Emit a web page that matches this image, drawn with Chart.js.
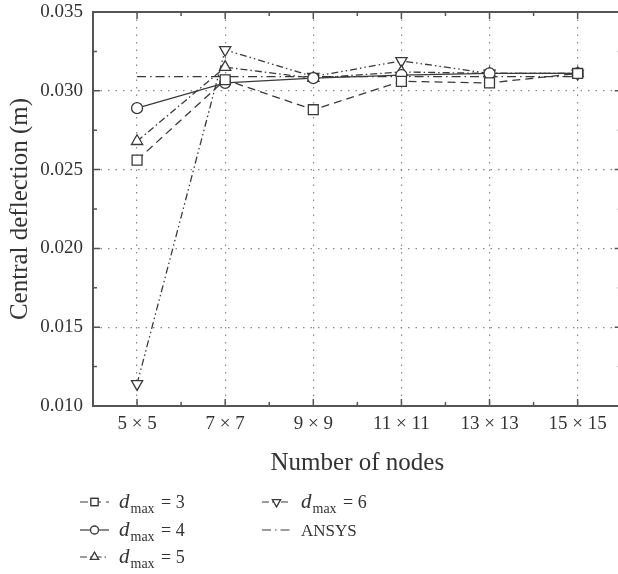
<!DOCTYPE html>
<html>
<head>
<meta charset="utf-8">
<script src="https://cdn.jsdelivr.net/npm/chart.js@4/dist/chart.umd.min.js"></script>
<style>
  html, body { margin: 0; padding: 0; background: #fff; overflow: hidden; }
  #chart { display: block; }
</style>
</head>
<body>
<canvas id="chart" width="630" height="574"></canvas>
<script>
const nodeLabels = ["5 × 5", "7 × 7", "9 × 9", "11 × 11", "13 × 13", "15 × 15"];
const dmax3 = [0.0256, 0.0307, 0.0288, 0.0306, 0.0305, 0.0311];
const dmax4 = [0.0289, 0.0305, 0.0308, 0.0310, 0.0311, 0.0311];
const dmax5 = [0.0268, 0.0315, 0.0308, 0.0312, 0.0311, 0.0311];
const dmax6 = [0.0114, 0.0326, 0.0309, 0.0319, 0.0311, 0.0311];
const ansys = [0.0309, 0.0309, 0.0309, 0.0309, 0.0309, 0.0309];
const yTicks = [0.010, 0.015, 0.020, 0.025, 0.030, 0.035];
const legendNames = ["3", "4", "5", "6", "ANSYS"];

const ink = "#3a3a3a";
const serif = "'Liberation Serif', 'DejaVu Serif', serif";

function series(label, data, dash, style, radius, rotation) {
    return {
        label: label,
        data: data,
        borderColor: ink,
        borderWidth: 1.3,
        borderDash: dash,
        tension: 0,
        fill: false,
        pointStyle: style,
        pointRadius: radius,
        pointRotation: rotation || 0,
        pointBackgroundColor: "#fff",
        pointBorderColor: ink,
        pointBorderWidth: 1.3,
    };
}

/* frame, inward ticks and the two-column legend */
const framePlugin = {
    id: "frame",
    afterDraw(chart) {
        const ctx = chart.ctx;
        const a = chart.chartArea;
        const xs = chart.scales.x;
        const ys = chart.scales.y;
        ctx.save();
        ctx.strokeStyle = "#555";
        ctx.lineWidth = 2;
        ctx.strokeRect(a.left, a.top, a.right - a.left, a.bottom - a.top);

        ctx.lineWidth = 1.5;
        ctx.beginPath();
        const step = xs.getPixelForValue(1) - xs.getPixelForValue(0);
        for (let i = 0; i < nodeLabels.length; i++) {
            const px = xs.getPixelForValue(i);
            ctx.moveTo(px, a.bottom); ctx.lineTo(px, a.bottom - 7);
            ctx.moveTo(px, a.top); ctx.lineTo(px, a.top + 7);
            const mx = px - step / 2;
            ctx.moveTo(mx, a.bottom); ctx.lineTo(mx, a.bottom - 4);
            ctx.moveTo(mx, a.top); ctx.lineTo(mx, a.top + 4);
        }
        yTicks.forEach((v) => {
            const py = ys.getPixelForValue(v);
            ctx.moveTo(a.left, py); ctx.lineTo(a.left + 7, py);
            ctx.moveTo(a.right, py); ctx.lineTo(a.right - 7, py);
            if (v < 0.035) {
                const my = ys.getPixelForValue(v + 0.0025);
                ctx.moveTo(a.left, my); ctx.lineTo(a.left + 4, my);
                ctx.moveTo(a.right, my); ctx.lineTo(a.right - 4, my);
            }
        });
        ctx.stroke();

        // legend
        const slots = [
            [80, 502], [80, 530], [80, 557],
            [262, 502], [262, 530],
        ];
        chart.data.datasets.forEach((ds, i) => {
            const [x0, y0] = slots[i];
            ctx.strokeStyle = ink;
            ctx.lineWidth = 1.2;
            ctx.setLineDash(ds.borderDash || []);
            ctx.beginPath();
            ctx.moveTo(x0, y0);
            ctx.lineTo(x0 + 29, y0);
            ctx.stroke();
            ctx.setLineDash([]);
            if (ds.pointRadius > 0) {
                ctx.fillStyle = "#fff";
                Chart.helpers.drawPoint(ctx, {
                    pointStyle: ds.pointStyle,
                    rotation: ds.pointRotation,
                    radius: ds.pointRadius * 0.72,
                    borderWidth: 1.2,
                }, x0 + 14.5, y0);
                ctx.fill();
                ctx.stroke();
            }
            ctx.fillStyle = "#333";
            ctx.textBaseline = "alphabetic";
            const tx = x0 + 39;
            const base = y0 + 6;
            if (ds.label === "ANSYS") {
                ctx.font = "17px " + serif;
                ctx.fillText("ANSYS", tx, base);
            } else {
                ctx.font = "italic 21px " + serif;
                ctx.fillText("d", tx, base);
                let w = ctx.measureText("d").width;
                ctx.font = "14px " + serif;
                ctx.fillText("max", tx + w + 1, base + 5);
                w += ctx.measureText("max").width + 1;
                ctx.font = "18px " + serif;
                ctx.fillText(" = " + legendNames[i], tx + w + 2, base);
            }
        });
        ctx.restore();
    },
};

const ctx = document.getElementById("chart").getContext("2d");
new Chart(ctx, {
    type: "line",
    data: {
        labels: nodeLabels,
        datasets: [
            series("dmax = 3", dmax3, [8, 5], "rect", 7),
            series("dmax = 4", dmax4, [], "circle", 5.5),
            series("dmax = 5", dmax5, [7, 3, 1.5, 3], "triangle", 6.5),
            series("dmax = 6", dmax6, [7, 3, 1.5, 3, 1.5, 3], "triangle", 6.5, 180),
            series("ANSYS", ansys, [9, 4, 1.5, 4], "circle", 0),
        ],
    },
    options: {
        responsive: false,
        animation: false,
        layout: { padding: { top: 12, right: 1, bottom: 96, left: 0 } },
        plugins: {
            legend: { display: false },
            tooltip: { enabled: false },
        },
        scales: {
            x: {
                type: "category",
                offset: true,
                grid: {
                    offset: false,
                    color: "#888",
                    lineWidth: 1.2,
                    drawTicks: false,
                },
                border: { display: false, dash: [1.5, 6] },
                ticks: {
                    color: "#333",
                    font: { family: serif, size: 19 },
                    padding: 7,
                    maxRotation: 0,
                },
                title: {
                    display: true,
                    text: "Number of nodes",
                    color: "#333",
                    font: { family: serif, size: 25 },
                    padding: { top: 4, bottom: 0 },
                },
                afterFit(scale) { scale.height = 72; },
            },
            y: {
                min: 0.010,
                max: 0.035,
                grid: {
                    color: "#888",
                    lineWidth: 1.2,
                    drawTicks: false,
                },
                border: { display: false, dash: [1.5, 6] },
                ticks: {
                    stepSize: 0.005,
                    color: "#333",
                    font: { family: serif, size: 19 },
                    padding: 10,
                    callback: (v) => Number(v).toFixed(3),
                },
                title: {
                    display: true,
                    text: "Central deflection (m)",
                    color: "#333",
                    font: { family: serif, size: 25 },
                    padding: { top: 5, bottom: 0 },
                },
                afterFit(scale) {
                    scale.width = 93;
                    scale.paddingTop = 0;
                    scale.paddingBottom = 0;
                },
            },
        },
    },
    plugins: [framePlugin],
});
</script>
</body>
</html>
